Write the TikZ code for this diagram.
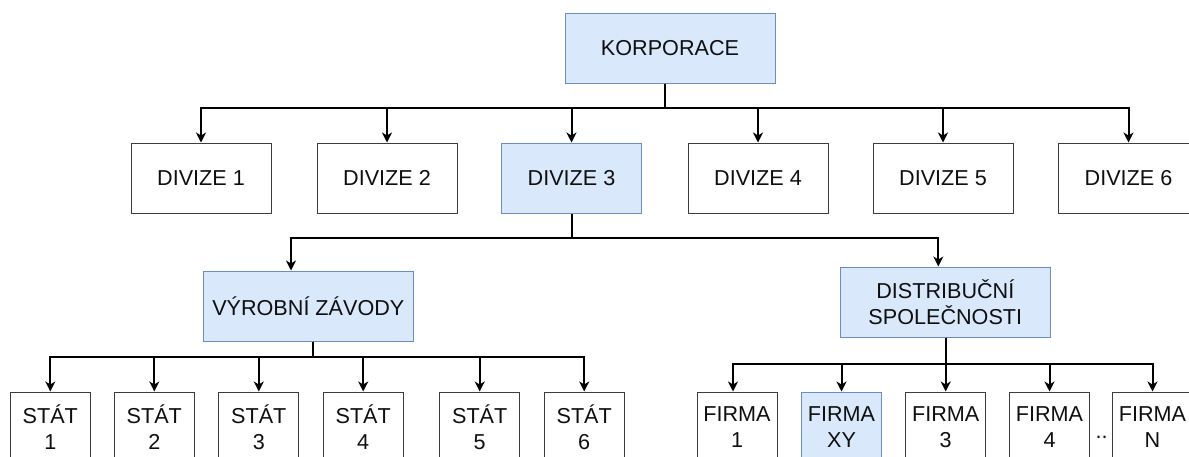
\documentclass[tikz,border=0pt]{standalone}
\usepackage{fontspec}
\setmainfont{Liberation Sans}
\usetikzlibrary{arrows.meta}

\definecolor{hifill}{RGB}{218,232,252}
\definecolor{hiline}{RGB}{108,142,191}
\definecolor{boxline}{RGB}{60,60,60}
\definecolor{txt}{RGB}{15,15,15}

\tikzset{
  unit/.style={rectangle, draw=boxline, fill=white, line width=1pt,
    inner sep=0pt, align=center, text=txt,
    font=\fontsize{21.6}{26.5}\selectfont},
  wide/.style={unit, minimum width=210pt, minimum height=70pt},
  divbox/.style={unit, minimum width=140pt, minimum height=70pt},
  small/.style={unit, minimum width=80pt, minimum height=70pt},
  hl/.style={fill=hifill, draw=hiline},
  conn/.style={draw=black, line width=2pt,
    -{Stealth[length=10pt, width=10pt, inset=3pt]}},
}

\begin{document}
\begin{tikzpicture}[x=1pt, y=-1pt]
\useasboundingbox (0,0) rectangle (1189,456);
\clip (0,0) rectangle (1189,456);

% top level
\node[wide, hl] (korp) at (670,48) {KORPORACE};

% divisions
\node[divbox] (d1) at (201,178) {DIVIZE 1};
\node[divbox] (d2) at (387,178) {DIVIZE 2};
\node[divbox, hl] (d3) at (571.5,178) {DIVIZE 3};
\node[divbox] (d4) at (758,178) {DIVIZE 4};
\node[divbox] (d5) at (943,178) {DIVIZE 5};
\node[divbox] (d6) at (1128.5,178) {DIVIZE 6};

% second level under DIVIZE 3
\node[wide, hl] (vyr) at (308.3,306) {VÝROBNÍ ZÁVODY};
\node[wide, hl] (dist) at (945.3,302) {DISTRIBUČNÍ\\SPOLEČNOSTI};

% states
\node[small] (s1) at (50.3,427) {STÁT\\1};
\node[small] (s2) at (154.3,427) {STÁT\\2};
\node[small] (s3) at (258.8,427) {STÁT\\3};
\node[small] (s4) at (363.2,427) {STÁT\\4};
\node[small] (s5) at (479.7,427) {STÁT\\5};
\node[small] (s6) at (584.2,427) {STÁT\\6};

% companies
\node[small] (f1) at (737,427) {FIRMA\\1};
\node[small, hl] (f2) at (841.5,427) {FIRMA\\XY};
\node[small] (f3) at (945.7,427) {FIRMA\\3};
\node[small] (f4) at (1049.5,427) {FIRMA\\4};
\node[small] (f5) at (1152.5,427) {FIRMA\\N};
\node[anchor=base, inner sep=0pt, text=txt, font=\fontsize{21.6}{26.5}\selectfont]
  (dots) at (1101.5,438) {..};

% corporation -> divisions
\foreach \d in {d1,d2,d3,d4,d5,d6}
  \draw[conn] ([xshift=-5.5pt]korp.south) -- ++(0,24.5) -| (\d.north);

% DIVIZE 3 -> second level
\draw[conn] ([xshift=0.5pt]d3.south) -- ++(0,24.7) -| ([xshift=-17.3pt]vyr.north);
\draw[conn] ([xshift=0.5pt]d3.south) -- ++(0,24.7) -| ([xshift=-7pt]dist.north);

% production plants -> states
\foreach \s in {s1,s2,s3,s4,s5,s6}
  \draw[conn] ([xshift=4.4pt]vyr.south) -- ++(0,15.7) -| (\s.north);

% distribution -> companies
\draw[conn] ([xshift=0.4pt]dist.south) -- ++(0,26.3) -| ([xshift=-4pt]f1.north);
\foreach \f in {f2,f3,f4,f5}
  \draw[conn] ([xshift=0.4pt]dist.south) -- ++(0,26.3) -| (\f.north);
\end{tikzpicture}
\end{document}
